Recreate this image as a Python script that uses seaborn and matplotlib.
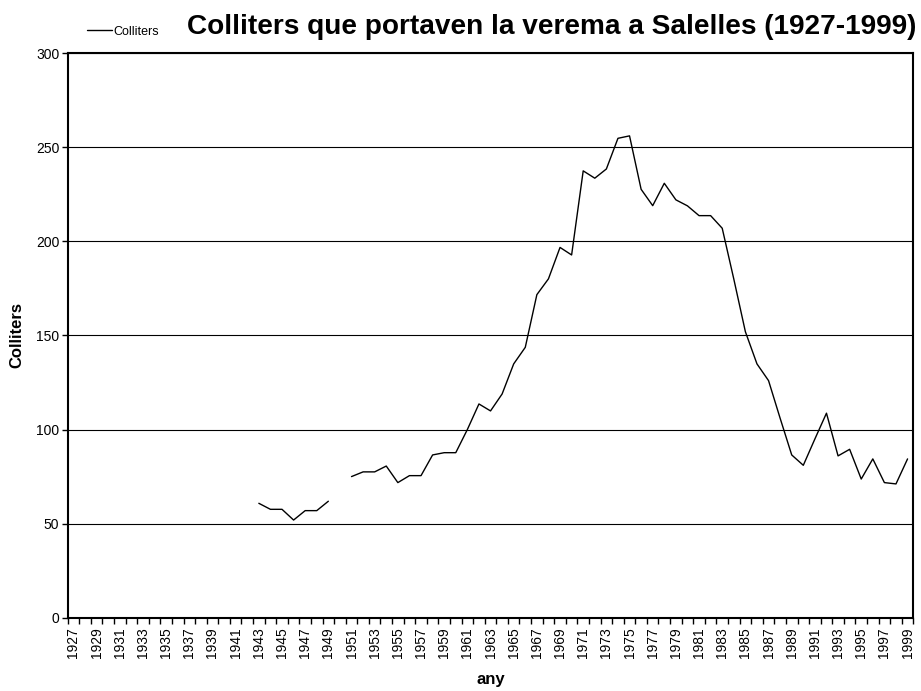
import numpy as np
import pandas as pd
import matplotlib
matplotlib.use("Agg")
import matplotlib.pyplot as plt
from matplotlib.lines import Line2D
from matplotlib.ticker import MultipleLocator, FixedLocator
import seaborn as sns

# Dades llegides del gràfic (1950 sense dada)
anys = list(range(1943, 2000))
colliters = [
    60.8, 57.6, 57.6, 51.9, 56.9, 56.9, 61.9,          # 1943-1949
    np.nan,                                             # 1950
    75.0, 77.5, 77.5, 80.6, 71.8, 75.5, 75.5, 86.5, 87.7, 87.7,   # 1951-1960
    100.0, 113.6, 109.9, 118.9, 134.9, 143.7, 171.7, 180.1, 196.8, 192.8,  # 1961-1970
    237.5, 233.6, 238.5, 254.8, 256.1, 227.7, 219.0, 230.9, 222.1, 218.9,  # 1971-1980
    213.7, 213.7, 207.0, 180.0, 152.0, 134.9, 126.0, 106.0, 86.5, 81.0,    # 1981-1990
    95.0, 108.7, 86.0, 89.5, 73.7, 84.4, 71.8, 71.1, 84.4,                 # 1991-1999
]
titol = "Colliters que portaven la verema a Salelles (1927-1999)"
any_ini, any_fi = 1927, 1999

df = pd.DataFrame({"any": anys, "Colliters": colliters})
df["tram"] = df["Colliters"].isna().cumsum()
df = df.dropna()

sns.set_style("white")
plt.rcParams["font.family"] = ["Liberation Sans", "DejaVu Sans"]
plt.rcParams.update({"text.color": "black", "axes.labelcolor": "black",
                     "xtick.color": "black", "ytick.color": "black"})

fig = plt.figure(figsize=(9.21, 6.91), dpi=100)
ax = fig.add_axes([0.0735, 0.1061, 0.9182, 0.8168])

sns.lineplot(data=df, x="any", y="Colliters", units="tram", estimator=None,
             color="black", lw=1.0, ax=ax)

# eixos
ax.set_xlim(any_ini - 0.5, any_fi + 0.5)
ax.set_ylim(0, 300)
ax.yaxis.set_major_locator(MultipleLocator(50))
ax.grid(axis="y", color="black", lw=0.8)
ax.grid(axis="x", visible=False)
ax.set_axisbelow(True)

ax.xaxis.set_major_locator(FixedLocator(list(range(any_ini, any_fi + 1, 2))))
ax.xaxis.set_minor_locator(FixedLocator(list(np.arange(any_ini - 0.5, any_fi + 1, 1))))
ax.set_xticklabels([str(a) for a in range(any_ini, any_fi + 1, 2)], rotation=90)
ax.tick_params(axis="x", which="major", length=0, labelsize=10, pad=7, labelcolor="black")
ax.tick_params(axis="x", which="minor", length=4, width=1, color="black", direction="out", bottom=True)
ax.tick_params(axis="y", which="major", length=4, width=1, color="black", direction="out",
               left=True, labelsize=10, pad=2, labelcolor="black")

for s in ax.spines.values():
    s.set_color("black")
    s.set_linewidth(1.5)

ax.set_xlabel("any", fontsize=12, fontweight="bold", va="center", color="black")
ax.xaxis.set_label_coords(0.5, -0.110)
ax.set_ylabel("Colliters", fontsize=12, fontweight="bold", va="center", color="black")
ax.yaxis.set_label_coords(-0.060, 0.5)

fig.text(0.995, 0.961, titol, ha="right", va="center", fontsize=20.2, fontweight="bold",
         color="black")
leg = ax.legend(handles=[Line2D([], [], color="black", lw=1.0)], labels=["Colliters"],
                loc="center left", bbox_to_anchor=(0.0875, 0.954), bbox_transform=fig.transFigure,
                frameon=False, fontsize=9, handlelength=2.0, handletextpad=0.15, borderpad=0)
for t in leg.get_texts():
    t.set_color("black")

fig.savefig("out.png", dpi=100)
